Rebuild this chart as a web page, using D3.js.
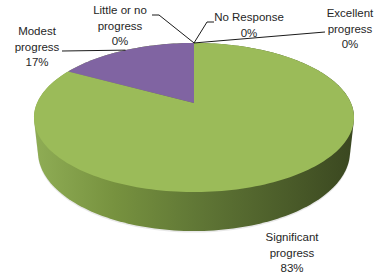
<!DOCTYPE html>
<html><head><meta charset="utf-8">
<script src="https://cdn.jsdelivr.net/npm/d3@7"></script>
<style>html,body{margin:0;padding:0;background:#fff;}svg{display:block;}</style>
</head><body><svg id="c" width="379" height="278"></svg>
<script>
// ---- data ----
const categories = ["Excellent progress","No Response","Significant progress","Modest progress","Little or no progress"];
const values = [0, 0, 83, 17, 0];
const percentLabels = ["0%","0%","83%","17%","0%"];
const colors = ["#4F81BD","#C0504D","#9BBB59","#8064A2","#4BACC6"];

// ---- layout (perspective 3D pie) ----
const cx = 194, cy = 103;
const f = 717, r = 0.2189, sA = 0.457, cA = Math.sqrt(1 - sA*sA), hgt = 0.0542;
function proj(theta, rr, yw) {
  const X = r*rr*Math.sin(theta), Z = r*rr*Math.cos(theta);
  const xc = X, yc = yw*cA + Z*sA, zc = 1 + Z*cA - yw*sA;
  return [cx + f*xc/zc, cy - f*yc/zc];
}
const svg = d3.select("#c");
const defs = svg.append("defs");
const grad = defs.append("linearGradient").attr("id","side").attr("gradientUnits","userSpaceOnUse")
  .attr("x1",34).attr("x2",354).attr("y1",0).attr("y2",0);
[[0,"#8fad55"],[0.25,"#77923f"],[0.5,"#617836"],[0.8,"#4a5b29"],[1,"#3a4720"]].forEach(([o,c])=>
  grad.append("stop").attr("offset",o).attr("stop-color",c));

const N = 240;
const ring = d3.range(N).map(i => i/N*2*Math.PI);
const pts = ring.map(t => proj(t,1,0)).concat(ring.map(t => proj(t,1,-hgt)));
const hull = d3.polygonHull(pts);
svg.append("path").attr("d", "M" + hull.map(p=>[p[0], p[1]+1.5].join(",")).join("L") + "Z")
  .attr("fill","#d9d9d9").attr("opacity",0.6);
svg.append("path").attr("d", "M" + hull.join("L") + "Z").attr("fill","url(#side)");

const arcs = d3.pie().sort(null).value(d=>d)(values);
const line = d3.line();
arcs.forEach((a,i) => {
  if (a.endAngle - a.startAngle <= 0) return;
  const n = Math.max(4, Math.ceil((a.endAngle - a.startAngle)/(2*Math.PI)*N));
  const p = [[cx,cy]].concat(d3.range(n+1).map(k => proj(a.startAngle + (a.endAngle-a.startAngle)*k/n, 1, 0)));
  svg.append("path").attr("d", line(p) + "Z").attr("fill", colors[i]);
});

// ---- labels ----
const labelLayout = [
  {x:350, y:17, wrap:true,  lead:[[325,32]]},
  {x:249, y:21, wrap:false, lead:[[214,22],[207,22]]},
  {x:292, y:241, wrap:true, lead:null},
  {x:37, y:35, wrap:true,   lead:[[62,51]]},
  {x:120, y:14, wrap:true,  lead:[[152,15],[159,15]]}
];
function splitName(s, wrap) {
  if (!wrap) return [s];
  const k = s.lastIndexOf(" ");
  return [s.slice(0,k), s.slice(k+1)];
}
arcs.forEach((a,i) => {
  const L = labelLayout[i];
  if (L.lead) {
    const anchor = proj((a.startAngle + a.endAngle)/2, 1, 0);
    svg.append("path").attr("d", line(L.lead.concat([anchor]))).attr("fill","none")
      .attr("stroke","#000").attr("stroke-width",0.9);
  }
  const t = svg.append("text").attr("text-anchor","middle").attr("font-family","Liberation Sans, Arial, sans-serif")
    .attr("font-size","11.5px").attr("fill","#262626");
  splitName(categories[i], L.wrap).concat([percentLabels[i]]).forEach((s,k) =>
    t.append("tspan").attr("x", L.x).attr("y", L.y + k*15.5).text(s));
});
</script></body></html>
